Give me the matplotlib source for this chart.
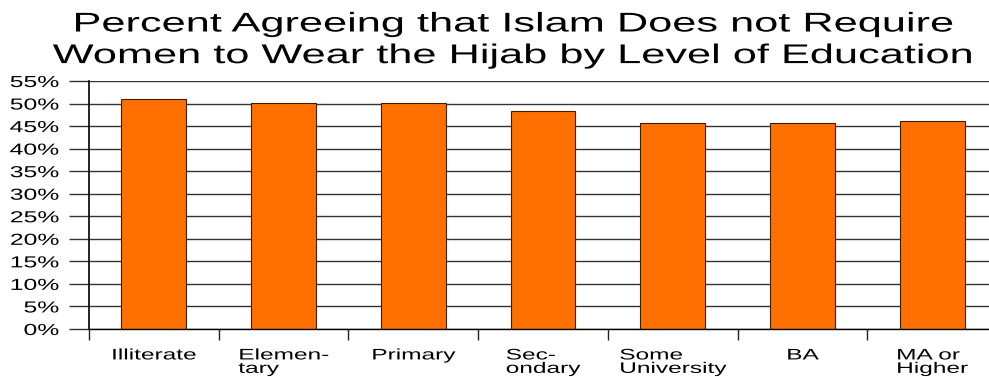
import matplotlib.pyplot as plt
import numpy as np
from matplotlib.patheffects import AbstractPathEffect
from matplotlib.transforms import Affine2D

plt.rcParams['font.family'] = ['Liberation Sans', 'DejaVu Sans']

# education levels and share agreeing (%)
levels = ['Illiterate', 'Elemen-\ntary', 'Primary', 'Sec-\nondary',
          'Some\nUniversity', 'BA', 'MA or\nHigher']
agree = [50.9, 50.1, 50.1, 48.4, 45.7, 45.7, 46.2]
yticks = list(range(0, 56, 5))


class StretchX(AbstractPathEffect):
    """Widen text horizontally about a pivot (fixed x, or an edge of the line)."""

    def __init__(self, sx, pivot=None, anchor='center'):
        super().__init__()
        self.sx = sx
        self.pivot = pivot
        self.anchor = anchor

    def draw_path(self, renderer, gc, tpath, affine, rgbFace=None):
        if self.pivot is not None:
            px = self.pivot
        else:
            ext = affine.transform_path(tpath).get_extents()
            px = {'left': ext.x0, 'center': 0.5 * (ext.x0 + ext.x1),
                  'right': ext.x1}[self.anchor]
        tr = affine + Affine2D().translate(-px, 0).scale(self.sx, 1).translate(px, 0)
        renderer.draw_path(gc, tpath, tr, rgbFace)


W, H = 989, 377
fig = plt.figure(figsize=(W / 100, H / 100), dpi=100)
ax = fig.add_axes([89 / W, 1 - 329 / H, 908 / W, 248 / H])

x = np.arange(len(levels))
ax.set_axisbelow(True)
ax.yaxis.grid(True, color='#333333', linewidth=1)
ax.bar(x, agree, width=0.5, color='#ff7000', edgecolor='#3a2000', linewidth=0.8)

ax.set_xlim(-0.5, len(levels) - 0.5)
ax.set_ylim(0, 55)
ax.set_yticks(yticks)
ax.set_yticklabels([f'{v}%' for v in yticks], fontsize=11.5)
ax.tick_params(axis='y', length=14.5, width=1, color='#333333', pad=7)

# category labels centred, boundary ticks between them
ax.set_xticks(x)
ax.set_xticklabels(levels, fontsize=11, multialignment='left', linespacing=0.95)
ax.tick_params(axis='x', which='major', length=0, pad=14)
ax.set_xticks(np.arange(len(levels) + 1) - 0.5, minor=True)
ax.tick_params(axis='x', which='minor', length=8, width=1, color='#222222')

for s in ['top', 'right']:
    ax.spines[s].set_visible(False)
ax.spines['left'].set_linewidth(1.2)
ax.spines['bottom'].set_linewidth(1)

for lab in ax.get_yticklabels():
    lab.set_path_effects([StretchX(1.55, anchor='right')])
for i, lab in enumerate(ax.get_xticklabels()):
    px = ax.transData.transform((i, 0))[0]
    lab.set_path_effects([StretchX(1.6, pivot=px)])

title_x = 514
title = fig.text(title_x / W, 1 - 11.5 / H,
                 'Percent Agreeing that Islam Does not Require\n'
                 'Women to Wear the Hijab by Level of Education',
                 ha='center', va='top', fontsize=19.5, linespacing=1.28)
title.set_path_effects([StretchX(1.6, pivot=title_x)])

fig.savefig('out.png', dpi=100)
